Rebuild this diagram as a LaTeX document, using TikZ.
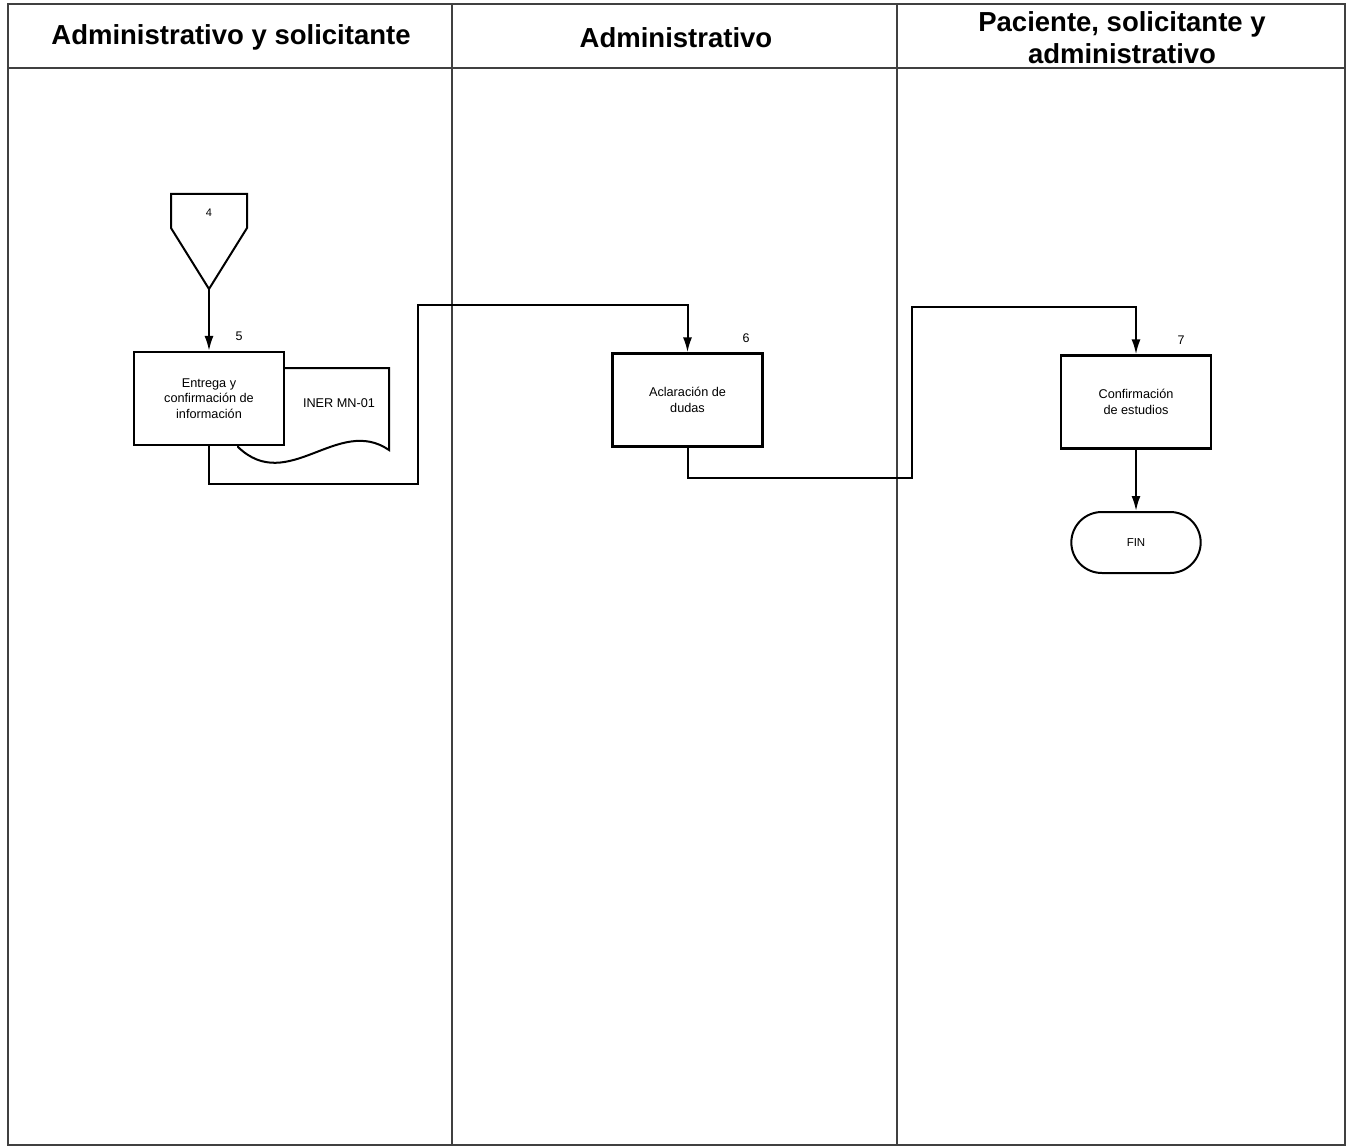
\documentclass[tikz,border=0pt]{standalone}
\usepackage{fontspec}
\setmainfont{Liberation Sans}
\usetikzlibrary{arrows.meta,shapes.misc}

\tikzstyle{every node}=[font=\fontsize{12.7pt}{15.5pt}\selectfont]
\tikzstyle{titulo}=[font=\fontsize{27.5pt}{32pt}\selectfont\bfseries, align=center]
\tikzstyle{caja}=[draw, line width=2.2pt, fill=white, minimum width=150pt, minimum height=93pt, align=center, inner sep=0pt]
\tikzstyle{numero}=[font=\fontsize{12.5pt}{15pt}\selectfont]
\tikzstyle{linea}=[line width=2pt]
\tikzstyle{carril}=[line width=1.1pt, black!75]

\begin{document}
\begin{tikzpicture}[x=1pt, y=-1pt, >={Latex[length=15pt,width=9pt]}]
		\useasboundingbox (0,0) rectangle (1351,1147);

		% Carriles y encabezados
		\draw[carril] (8,4) rectangle (1345,1145);
		\draw[carril] (8,68) -- (1345,68);
		\draw[carril] (452,4) -- (452,1145);
		\draw[carril] (897,4) -- (897,1145);
		\node[titulo] (t1) at (231,37) {Administrativo y solicitante};
		\node[titulo] (t2) at (676,38) {Administrativo};
		\node[titulo] (t3) at (1122,38) {Paciente, solicitante y\\administrativo};

		% Conector de pagina 4
		\draw[linea] (171,194) -- (247,194) -- (247,228) -- (209,289) -- (171,228) -- cycle;
		\coordinate (c4tip) at (209,289);
		\node[font=\fontsize{11pt}{13pt}\selectfont] (c4) at (209,213) {4};

		% Documento INER MN-01
		\draw[linea, fill=white] (238,368) -- (389,368) -- (389,450)
				.. controls (338,415) and (288,495) .. (238,447) -- cycle;
		\node (doc) at (339,403) {INER MN-01};

		% Actividades
		\node[caja] (b5) at (209,398.5) {Entrega y\\confirmación de\\información};
		\node[numero] (n5) at (239,336) {5};
		\node[caja] (b6) at (687.5,400) {Aclaración de\\dudas};
		\node[numero] (n6) at (746,338) {6};
		\node[caja] (b7) at (1136,402) {Confirmación\\de estudios};
		\node[numero] (n7) at (1181,340) {7};
		\node[draw, line width=2pt, rounded rectangle, minimum width=136pt, minimum height=61pt,
				font=\fontsize{11.5pt}{14pt}\selectfont] (fin) at (1136,542.5) {FIN};

		% Flechas
		\coordinate (j1) at (418,484);
		\coordinate (j2) at (418,305);
		\coordinate (j3) at (912,478);
		\coordinate (j4) at (912,307);
		\draw[linea, ->] (c4tip) -- (b5.north);
		\draw[linea, ->] (b5.south) |- (j1) -- (j2) -| (b6.north);
		\draw[linea, ->] (b6.south) |- (j3) -- (j4) -| (b7.north);
		\draw[linea, ->] (b7.south) -- (fin.north);
\end{tikzpicture}
\end{document}
